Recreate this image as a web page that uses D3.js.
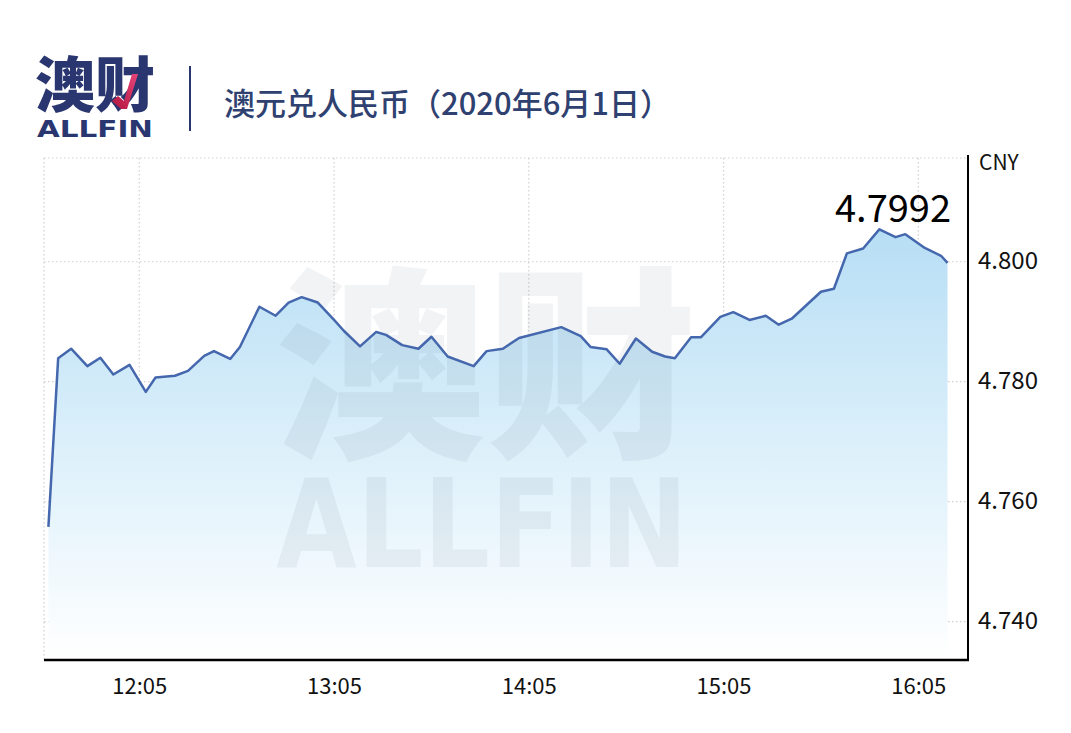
<!DOCTYPE html>
<html>
<head>
<meta charset="utf-8">
<script src="https://cdn.jsdelivr.net/npm/d3@7"></script>
<style>
html,body{margin:0;padding:0;background:#fff;}
svg{display:block;}
</style>
</head>
<body>
<svg id="chart" width="1071" height="733"></svg>
<script>
// ---- data ----
const times = ["11:37","11:40","11:44","11:49","11:53","11:57","12:02","12:07","12:10","12:16",
  "12:20","12:25","12:28","12:33","12:36","12:42","12:47","12:51","12:55","13:00",
  "13:05","13:08","13:13","13:18","13:21","13:26","13:31","13:35","13:40","13:48",
  "13:52","13:57","14:02","14:15","14:21","14:24","14:29","14:33","14:38","14:43",
  "14:47","14:50","14:55","14:58","15:04","15:08","15:13","15:18","15:22","15:26",
  "15:35","15:39","15:43","15:48","15:53","15:58","16:01","16:07","16:12","16:14"];
const rates = [4.7558,4.7839,4.7855,4.7826,4.7840,4.7812,4.7828,4.7783,4.7807,4.7810,
  4.7818,4.7843,4.7851,4.7838,4.7858,4.7925,4.7910,4.7932,4.7941,4.7932,
  4.7903,4.7885,4.7859,4.7883,4.7878,4.7861,4.7855,4.7875,4.7842,4.7826,
  4.7851,4.7855,4.7873,4.7891,4.7876,4.7858,4.7854,4.7830,4.7872,4.7850,
  4.7842,4.7839,4.7874,4.7874,4.7908,4.7916,4.7903,4.7910,4.7895,4.7905,
  4.7950,4.7955,4.8014,4.8022,4.8054,4.8041,4.8046,4.8023,4.8010,4.7998];
const yTicks = [4.740, 4.760, 4.780, 4.800];
const xTickLabels = ["12:05","13:05","14:05","15:05","16:05"];
const lastRateLabel = "4.7992";
const unitLabel = "CNY";
const titleText = "澳元兑人民币（2020年6月1日）";
const brandCN = "澳财";
const brandEN = "ALLFIN";

(function () {
const toMin = s => { const [h, m] = s.split(":").map(Number); return h * 60 + m; };
const data = times.map((t, i) => ({ t: toMin(t), v: rates[i] }));

const svg = d3.select("#chart");
const W = 1071, H = 733;
const pL = 44, pR = 968, pT = 158, pB = 660;
const navy = "#2a3670";
const cjk = "'Noto Sans CJK SC','Noto Sans',sans-serif";

svg.append("rect").attr("width", W).attr("height", H).attr("fill", "#fff");

const x = d3.scaleLinear().domain([toMin("11:35") + 0.64, toMin("16:20") + 0.31]).range([pL, pR]);
const y = d3.scaleLinear().domain([4.7336, 4.8173]).range([pB, pT]);

// ---- gradients ----
const defs = svg.append("defs");
const grad = defs.append("linearGradient").attr("id", "areaGrad")
  .attr("x1", 0).attr("y1", 0).attr("x2", 0).attr("y2", 1);
grad.append("stop").attr("offset", "0%").attr("stop-color", "#b7def5");
grad.append("stop").attr("offset", "45%").attr("stop-color", "#d8eefa");
grad.append("stop").attr("offset", "100%").attr("stop-color", "#ffffff");
const red = defs.append("linearGradient").attr("id", "redGrad")
  .attr("x1", 0).attr("y1", 1).attr("x2", 1).attr("y2", 0);
red.append("stop").attr("offset", "0%").attr("stop-color", "#b0173c");
red.append("stop").attr("offset", "100%").attr("stop-color", "#e8457a");

// ---- grid ----
const grid = svg.append("g");
const gridStyle = sel => sel.attr("stroke", "#cfcfcf").attr("stroke-width", 1.2).attr("stroke-dasharray", "1.5,2.5");
grid.selectAll(".hg").data(yTicks.concat([y.invert(pT)])).enter().append("line")
  .attr("x1", pL).attr("x2", pR)
  .attr("y1", d => y(d)).attr("y2", d => y(d)).call(gridStyle);
grid.selectAll(".vg").data([x.invert(pL)].concat(xTickLabels.map(toMin))).enter().append("line")
  .attr("y1", pT).attr("y2", pB)
  .attr("x1", d => x(d)).attr("x2", d => x(d)).call(gridStyle);

// ---- area ----
const area = d3.area().x(d => x(d.t)).y0(pB).y1(d => y(d.v));
svg.append("path").datum(data).attr("d", area).attr("fill", "url(#areaGrad)");

// ---- watermark ----
const wm = svg.append("g").attr("fill", "#1c2b40").attr("fill-opacity", 0.06);
wm.append("text").attr("x", 275).attr("y", 352)
  .attr("dominant-baseline", "central")
  .attr("textLength", 422).attr("lengthAdjust", "spacingAndGlyphs")
  .style("font-family", cjk).style("font-weight", 900).style("font-size", "206px").text(brandCN);
wm.append("text").attr("x", 276).attr("y", 567)
  .attr("textLength", 412).attr("lengthAdjust", "spacingAndGlyphs")
  .style("font-family", "'DejaVu Sans',sans-serif").style("font-weight", 700).style("font-size", "123px").text(brandEN);

// ---- line ----
const line = d3.line().x(d => x(d.t)).y(d => y(d.v));
svg.append("path").datum(data).attr("d", line).attr("fill", "none")
  .attr("stroke", "#4467ad").attr("stroke-width", 2.5).attr("stroke-linejoin", "round");

// ---- axes ----
const yAxis = d3.axisRight(y).tickValues(yTicks).tickSize(0).tickPadding(10).tickFormat(d3.format(".3f"));
const gy = svg.append("g").attr("transform", `translate(${pR},0)`).call(yAxis);
gy.select(".domain").remove();
gy.selectAll("text").attr("dy", "0.28em").style("font-family", cjk).style("font-size", "24px").attr("fill", "#111");

const xAxis = d3.axisBottom(x).tickValues(xTickLabels.map(toMin)).tickSize(0).tickPadding(18)
  .tickFormat((d, i) => xTickLabels[i]);
const gx = svg.append("g").attr("transform", `translate(0,${pB})`).call(xAxis);
gx.select(".domain").remove();
gx.selectAll("text").style("font-family", cjk).style("font-size", "22px").attr("fill", "#111");

svg.append("line").attr("x1", pL).attr("x2", pR + 1).attr("y1", pB).attr("y2", pB)
  .attr("stroke", "#000").attr("stroke-width", 2.4);
svg.append("line").attr("x1", pR).attr("x2", pR).attr("y1", 155).attr("y2", pB + 1)
  .attr("stroke", "#000").attr("stroke-width", 2);

svg.append("text").attr("x", 979).attr("y", 161).attr("dominant-baseline", "central")
  .style("font-family", cjk).style("font-size", "21px").attr("fill", "#111").text(unitLabel);
svg.append("text").attr("x", 951).attr("y", 205).attr("text-anchor", "end").attr("dominant-baseline", "central")
  .style("font-family", cjk).style("font-size", "38px").attr("fill", "#000").text(lastRateLabel);

// ---- header ----
svg.append("text").attr("x", 35).attr("y", 80).attr("dominant-baseline", "central")
  .attr("textLength", 120).attr("lengthAdjust", "spacingAndGlyphs")
  .style("font-family", cjk).style("font-weight", 900).style("font-size", "60px").attr("fill", navy).text(brandCN);
// red check accent of the brand mark
svg.append("path").attr("d", "M112,101 L121,109 L127,109 L138,74 L132,74 L124,101 L118,96 Z")
  .attr("fill", "url(#redGrad)");
svg.append("text").attr("x", 37).attr("y", 137)
  .attr("textLength", 116).attr("lengthAdjust", "spacingAndGlyphs")
  .style("font-family", "'DejaVu Sans',sans-serif").style("font-weight", 700).style("font-size", "23px").attr("fill", navy).text(brandEN);
svg.append("line").attr("x1", 190).attr("x2", 190).attr("y1", 66).attr("y2", 131)
  .attr("stroke", navy).attr("stroke-width", 2);
svg.append("text").attr("x", 224).attr("y", 101).attr("dominant-baseline", "central")
  .style("font-family", cjk).style("font-weight", 500).style("font-size", "31px").attr("fill", "#2f4170").text(titleText);
})();
</script>
</body>
</html>
